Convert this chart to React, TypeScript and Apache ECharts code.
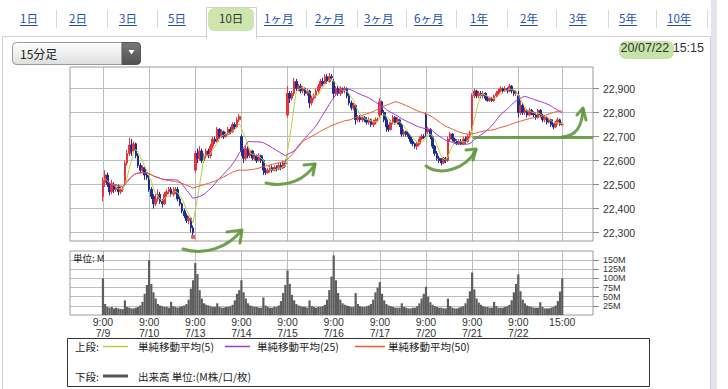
import React, { useEffect, useRef } from 'react';
import * as echarts from 'echarts';

// ---------------- data ----------------
const days = ['7/9', '7/10', '7/13', '7/14', '7/15', '7/16', '7/17', '7/20', '7/21', '7/22'];
const sessionTimes = ['9:00', '9:15', '9:30', '9:45', '10:00', '10:15', '10:30', '10:45', '11:00', '11:15',
  '12:30', '12:45', '13:00', '13:15', '13:30', '13:45', '14:00', '14:15', '14:30', '14:45', '15:00'];
const leadingSlots = 15;
const trailingSlots = 14;

// [open, close, low, high]
const ohlc0709 = [
  [22450, 22510, 22430, 22530], [22510, 22540, 22490, 22560], [22540, 22500, 22490, 22550], [22500, 22470, 22455, 22510],
  [22470, 22500, 22460, 22520], [22500, 22480, 22465, 22510], [22480, 22490, 22470, 22500], [22490, 22470, 22455, 22500],
  [22470, 22480, 22460, 22490], [22480, 22480, 22470, 22490], [22500, 22590, 22495, 22600], [22590, 22630, 22580, 22645],
  [22630, 22665, 22620, 22695], [22665, 22640, 22620, 22690], [22640, 22670, 22630, 22680], [22670, 22620, 22610, 22675],
  [22620, 22580, 22570, 22630], [22580, 22560, 22550, 22590], [22560, 22570, 22550, 22580], [22570, 22540, 22520, 22575],
  [22540, 22530, 22520, 22550],
];
const ohlc0710 = [
  [22520, 22480, 22470, 22540], [22480, 22450, 22440, 22490], [22450, 22420, 22400, 22460], [22420, 22440, 22410, 22460],
  [22440, 22460, 22430, 22480], [22460, 22430, 22420, 22470], [22430, 22420, 22405, 22440], [22420, 22460, 22415, 22470],
  [22460, 22470, 22450, 22480], [22470, 22480, 22460, 22490], [22480, 22460, 22450, 22490], [22460, 22470, 22450, 22490],
  [22470, 22480, 22460, 22490], [22480, 22440, 22430, 22490], [22440, 22420, 22410, 22450], [22420, 22390, 22380, 22425],
  [22390, 22370, 22360, 22400], [22370, 22350, 22340, 22380], [22350, 22360, 22335, 22370], [22360, 22320, 22300, 22365],
  [22320, 22300, 22290, 22330],
];
const ohlc0713 = [
  [22560, 22630, 22550, 22640], [22630, 22610, 22590, 22650], [22610, 22640, 22600, 22660], [22640, 22600, 22590, 22650],
  [22600, 22620, 22590, 22630], [22620, 22640, 22610, 22650], [22640, 22620, 22610, 22650], [22620, 22660, 22610, 22670],
  [22660, 22690, 22650, 22700], [22690, 22680, 22670, 22700], [22680, 22730, 22675, 22740], [22730, 22700, 22690, 22735],
  [22700, 22720, 22695, 22730], [22720, 22700, 22690, 22725], [22700, 22710, 22695, 22720], [22710, 22730, 22705, 22740],
  [22730, 22720, 22710, 22740], [22720, 22750, 22715, 22760], [22750, 22740, 22730, 22760], [22740, 22770, 22735, 22780],
  [22770, 22784, 22760, 22795],
];
const ohlc0714 = [
  [22700, 22640, 22620, 22710], [22640, 22610, 22590, 22650], [22610, 22650, 22600, 22660], [22650, 22620, 22610, 22660],
  [22620, 22640, 22610, 22650], [22640, 22610, 22600, 22645], [22610, 22620, 22600, 22630], [22620, 22600, 22590, 22625],
  [22600, 22620, 22595, 22630], [22620, 22600, 22590, 22625], [22600, 22560, 22540, 22605], [22560, 22550, 22540, 22570],
  [22550, 22560, 22545, 22570], [22560, 22570, 22550, 22580], [22570, 22560, 22550, 22580], [22560, 22570, 22555, 22580],
  [22570, 22565, 22555, 22580], [22565, 22580, 22560, 22590], [22580, 22570, 22560, 22590], [22570, 22590, 22565, 22600],
  [22590, 22587, 22575, 22605],
];
const ohlc0715 = [
  [22790, 22880, 22780, 22910], [22880, 22860, 22840, 22890], [22860, 22880, 22850, 22890], [22880, 22930, 22870, 22945],
  [22930, 22900, 22890, 22940], [22900, 22910, 22890, 22920], [22910, 22890, 22880, 22920], [22890, 22900, 22880, 22910],
  [22900, 22880, 22870, 22905], [22880, 22890, 22870, 22900], [22890, 22840, 22820, 22895], [22840, 22860, 22830, 22870],
  [22860, 22870, 22850, 22880], [22870, 22890, 22860, 22900], [22890, 22910, 22880, 22920], [22910, 22930, 22900, 22940],
  [22930, 22920, 22910, 22945], [22920, 22950, 22915, 22960], [22950, 22930, 22920, 22960], [22930, 22950, 22925, 22965],
  [22950, 22945, 22935, 22960],
];
const ohlc0716 = [
  [22930, 22880, 22860, 22940], [22880, 22900, 22870, 22910], [22900, 22880, 22870, 22910], [22880, 22900, 22870, 22910],
  [22900, 22890, 22880, 22905], [22890, 22900, 22880, 22910], [22900, 22870, 22860, 22905], [22870, 22840, 22830, 22880],
  [22840, 22820, 22810, 22850], [22820, 22830, 22810, 22840], [22830, 22770, 22750, 22835], [22770, 22780, 22760, 22790],
  [22780, 22770, 22760, 22790], [22770, 22780, 22760, 22790], [22780, 22770, 22760, 22785], [22770, 22760, 22750, 22780],
  [22760, 22770, 22750, 22780], [22770, 22750, 22740, 22775], [22750, 22760, 22740, 22770], [22760, 22770, 22750, 22780],
  [22770, 22770, 22760, 22780],
];
const ohlc0717 = [
  [22790, 22845, 22780, 22860], [22845, 22800, 22790, 22850], [22800, 22770, 22760, 22810], [22770, 22740, 22720, 22780],
  [22740, 22730, 22720, 22750], [22730, 22760, 22725, 22770], [22760, 22780, 22750, 22790], [22780, 22760, 22750, 22785],
  [22760, 22770, 22750, 22780], [22770, 22750, 22740, 22775], [22750, 22710, 22700, 22755], [22710, 22720, 22700, 22730],
  [22720, 22710, 22700, 22725], [22710, 22700, 22690, 22715], [22700, 22680, 22670, 22705], [22680, 22670, 22660, 22690],
  [22670, 22660, 22650, 22675], [22660, 22670, 22645, 22680], [22670, 22690, 22665, 22700], [22690, 22700, 22685, 22710],
  [22700, 22696, 22690, 22710],
];
const ohlc0720 = [
  [22790, 22720, 22700, 22800], [22720, 22730, 22710, 22740], [22730, 22700, 22690, 22735], [22700, 22660, 22650, 22705],
  [22660, 22630, 22620, 22665], [22630, 22610, 22600, 22640], [22610, 22600, 22590, 22620], [22600, 22590, 22580, 22610],
  [22590, 22610, 22585, 22615], [22610, 22600, 22590, 22615], [22600, 22690, 22595, 22700], [22690, 22710, 22680, 22720],
  [22710, 22690, 22680, 22715], [22690, 22680, 22670, 22695], [22680, 22670, 22665, 22690], [22670, 22680, 22665, 22690],
  [22680, 22670, 22665, 22690], [22670, 22690, 22665, 22700], [22690, 22680, 22670, 22700], [22680, 22700, 22675, 22710],
  [22700, 22717, 22695, 22725],
];
const ohlc0721 = [
  [22730, 22870, 22720, 22880], [22870, 22890, 22860, 22900], [22890, 22870, 22860, 22895], [22870, 22880, 22860, 22890],
  [22880, 22870, 22860, 22890], [22870, 22880, 22860, 22890], [22880, 22860, 22850, 22885], [22860, 22850, 22845, 22870],
  [22850, 22860, 22845, 22865], [22860, 22850, 22845, 22865], [22850, 22870, 22845, 22875], [22870, 22880, 22865, 22890],
  [22880, 22890, 22875, 22900], [22890, 22900, 22885, 22910], [22900, 22890, 22880, 22905], [22890, 22900, 22885, 22910],
  [22900, 22890, 22880, 22905], [22890, 22910, 22885, 22920], [22910, 22890, 22880, 22915], [22890, 22880, 22870, 22895],
  [22880, 22884, 22870, 22895],
];
const ohlc0722 = [
  [22870, 22800, 22780, 22890], [22800, 22830, 22790, 22850], [22830, 22800, 22790, 22840], [22800, 22810, 22790, 22820],
  [22810, 22790, 22780, 22815], [22790, 22810, 22785, 22820], [22810, 22800, 22790, 22815], [22800, 22790, 22780, 22805],
  [22790, 22780, 22770, 22800], [22780, 22810, 22775, 22815], [22810, 22790, 22780, 22815], [22790, 22770, 22760, 22795],
  [22770, 22780, 22760, 22790], [22780, 22760, 22750, 22785], [22760, 22770, 22755, 22775], [22770, 22750, 22740, 22775],
  [22750, 22740, 22730, 22755], [22740, 22760, 22735, 22765], [22760, 22770, 22750, 22780], [22770, 22750, 22745, 22775],
  [22750, 22751, 22745, 22760],
];
const dayOhlc = [ohlc0709, ohlc0710, ohlc0713, ohlc0714, ohlc0715, ohlc0716, ohlc0717, ohlc0720, ohlc0721, ohlc0722];

// volume, M
const vol0709 = [100, 30, 22, 20, 22, 18, 20, 18, 17, 16, 40, 22, 20, 18, 18, 20, 22, 26, 36, 58, 82];
const vol0710 = [150, 85, 62, 45, 30, 26, 24, 22, 22, 20, 36, 24, 22, 20, 22, 24, 26, 30, 42, 72, 95];
const vol0713 = [142, 112, 68, 45, 32, 28, 26, 24, 22, 22, 32, 22, 20, 20, 22, 22, 24, 28, 40, 58, 68];
const vol0714 = [95, 62, 45, 32, 26, 24, 22, 22, 20, 20, 48, 26, 22, 20, 20, 22, 22, 26, 38, 60, 82];
const vol0715 = [122, 85, 55, 40, 30, 26, 24, 22, 22, 20, 40, 24, 22, 20, 22, 22, 24, 28, 42, 68, 105];
const vol0716 = [163, 95, 60, 42, 32, 28, 26, 24, 22, 22, 60, 30, 24, 22, 22, 24, 26, 30, 42, 62, 75];
const vol0717 = [90, 58, 40, 30, 26, 24, 22, 20, 20, 20, 32, 22, 20, 18, 18, 20, 20, 24, 32, 45, 58];
const vol0720 = [77, 50, 35, 28, 24, 22, 20, 20, 18, 18, 45, 24, 20, 18, 18, 20, 22, 24, 32, 45, 65];
const vol0721 = [116, 70, 45, 34, 28, 24, 22, 22, 20, 20, 36, 24, 20, 20, 20, 22, 24, 28, 40, 62, 85];
const vol0722 = [111, 65, 42, 32, 26, 24, 22, 20, 20, 20, 35, 22, 18, 18, 18, 20, 22, 26, 38, 64, 100];
const dayVolume = [vol0709, vol0710, vol0713, vol0714, vol0715, vol0716, vol0717, vol0720, vol0721, vol0722];

const priceTicks = [22300, 22400, 22500, 22600, 22700, 22800, 22900];
const volumeTicks = [25, 50, 75, 100, 125, 150];
const maPeriods = [5, 25, 50];
const maNames = ['単純移動平均(5)', '単純移動平均(25)', '単純移動平均(50)'];
const maColors = ['#b8d040', '#9b3ad6', '#ec5a32'];
const lowMarker = { day: 1, bar: 20, value: 22282 };

const tabs = [
  { label: '1日', x: 20 }, { label: '2日', x: 69 }, { label: '3日', x: 119 }, { label: '5日', x: 168 },
  { label: '10日', x: 219, active: true }, { label: '1ヶ月', x: 264 }, { label: '2ヶ月', x: 315 },
  { label: '3ヶ月', x: 364 }, { label: '6ヶ月', x: 414 }, { label: '1年', x: 470 }, { label: '2年', x: 520 },
  { label: '3年', x: 569 }, { label: '5年', x: 619 }, { label: '10年', x: 667 },
];
const tabSeparators = [56, 107, 157, 306, 357, 406, 456, 507, 556, 608, 656, 707];

// ---------------- derived ----------------
const barsPerDay = sessionTimes.length;
const categories: string[] = [];
for (let i = 0; i < leadingSlots; i++) categories.push(`lead${i}`);
days.forEach((d) => sessionTimes.forEach((t) => categories.push(`${d} ${t}`)));
for (let i = 0; i < trailingSlots; i++) categories.push(`trail${i}`);

const bars: number[][] = ([] as number[][]).concat(...dayOhlc);
const volumes: number[] = ([] as number[]).concat(...dayVolume);
const pad = (arr: any[]) => [
  ...Array(leadingSlots).fill('-'),
  ...arr,
  ...Array(trailingSlots).fill('-'),
];
const closes = bars.map((b) => b[1]);
const sma = (n: number) =>
  closes.map((_, i) => {
    const s = Math.max(0, i - n + 1);
    let sum = 0;
    for (let j = s; j <= i; j++) sum += closes[j];
    return Math.round((sum / (i - s + 1)) * 10) / 10;
  });

const labelMap: Record<number, string> = {};
days.forEach((d, i) => {
  labelMap[leadingSlots + i * barsPerDay] = `${sessionTimes[0]}\n${d}`;
});
const lastIndex = leadingSlots + days.length * barsPerDay - 1;
labelMap[lastIndex] = sessionTimes[sessionTimes.length - 1];
const isGridIdx = (idx: number) => labelMap[idx] !== undefined;

export default function App() {
  const ref = useRef<HTMLDivElement>(null);
  useEffect(() => {
    if (!ref.current) return;
    const chart = echarts.init(ref.current, null, { renderer: 'svg' });

    const ctx = document.createElement('canvas').getContext('2d')!;
    const measure = (t: string, font: string) => {
      ctx.font = font;
      return ctx.measureText(t).width;
    };

    const cjk = '"Noto Sans CJK JP", "Noto Sans", sans-serif';
    const latin = '"Liberation Sans", Arial, sans-serif';
    const green = 'rgba(98,152,62,0.9)';

    const graphics: any[] = [];
    graphics.push({ type: 'rect', z: -10, shape: { x: 711, y: 0, width: 6, height: 389 }, style: { fill: '#e4e4ec' } });
    graphics.push({ type: 'rect', z: -9, shape: { x: 2.5, y: 36.5, width: 708, height: 380 }, style: { fill: '#fff', stroke: '#cfcfcf', lineWidth: 1 } });
    graphics.push({ type: 'rect', z: -8, shape: { x: 206.5, y: 7.5, width: 50, height: 31 }, style: { fill: '#fff', stroke: '#cfcfcf', lineWidth: 1 } });
    graphics.push({ type: 'rect', z: -7, shape: { x: 207, y: 35, width: 49, height: 4 }, style: { fill: '#fff' } });
    graphics.push({ type: 'rect', z: -6, shape: { x: 208, y: 8, width: 46, height: 23, r: 6 }, style: { fill: 'rgba(170,214,120,0.6)' } });
    tabSeparators.forEach((x) =>
      graphics.push({ type: 'line', z: -6, shape: { x1: x + 0.5, y1: 10, x2: x + 0.5, y2: 28 }, style: { stroke: '#d8d8d8', lineWidth: 1 } })
    );
    const tabFont = `11.5px ${cjk}`;
    tabs.forEach((t) => {
      const w = measure(t.label, tabFont);
      graphics.push({
        type: 'text', z: 5,
        style: { x: t.x, y: 18, text: t.label, font: tabFont, fill: t.active ? '#333' : '#1d50b0', textVerticalAlign: 'middle' },
      });
      if (!t.active) {
        graphics.push({ type: 'line', z: 5, shape: { x1: t.x, y1: 25.5, x2: t.x + w, y2: 25.5 }, style: { stroke: '#1d50b0', lineWidth: 1 } });
      }
    });

    // dropdown
    graphics.push({
      type: 'rect', z: 5, shape: { x: 12.5, y: 42.5, width: 128, height: 22, r: 4 },
      style: {
        fill: new echarts.graphic.LinearGradient(0, 0, 0, 1, [{ offset: 0, color: '#ffffff' }, { offset: 1, color: '#dedede' }]),
        stroke: '#9a9a9a', lineWidth: 1,
      },
    });
    graphics.push({
      type: 'rect', z: 6, shape: { x: 122, y: 42.5, width: 18.5, height: 22, r: [0, 4, 4, 0] },
      style: {
        fill: new echarts.graphic.LinearGradient(0, 0, 0, 1, [{ offset: 0, color: '#7a7a7a' }, { offset: 1, color: '#505050' }]),
        stroke: '#555', lineWidth: 1,
      },
    });
    graphics.push({ type: 'polygon', z: 7, shape: { points: [[128.5, 50], [134.5, 50], [131.5, 54.5]] }, style: { fill: '#fff' } });
    graphics.push({ type: 'text', z: 7, style: { x: 20, y: 53.5, text: '15分足', font: `12px ${cjk}`, fill: '#222', textVerticalAlign: 'middle' } });

    // date
    graphics.push({ type: 'rect', z: 5, shape: { x: 619, y: 41, width: 55, height: 18, r: 7 }, style: { fill: 'rgba(150,205,100,0.55)' } });
    graphics.push({ type: 'text', z: 6, style: { x: 704, y: 48, text: '20/07/22 15:15', font: `12.5px ${latin}`, fill: '#333', textAlign: 'right', textVerticalAlign: 'middle' } });

    // volume unit label
    graphics.push({ type: 'text', z: 20, style: { x: 73, y: 257.5, text: '単位: M', font: `9.5px ${cjk}`, fill: '#222', textVerticalAlign: 'middle' } });

    // legend box
    graphics.push({ type: 'rect', z: 5, shape: { x: 67.5, y: 338.5, width: 582, height: 48 }, style: { fill: '#fff', stroke: '#333', lineWidth: 1 } });
    const legFont = `10.5px ${cjk}`;
    graphics.push({ type: 'text', z: 6, style: { x: 75, y: 346.5, text: '上段:', font: legFont, fill: '#222', textVerticalAlign: 'middle' } });
    const legendItems = [
      { x1: 103, x2: 128, tx: 138 },
      { x1: 225, x2: 250, tx: 257 },
      { x1: 355, x2: 385, tx: 388 },
    ];
    legendItems.forEach((it, i) => {
      graphics.push({ type: 'line', z: 6, shape: { x1: it.x1, y1: 346.5, x2: it.x2, y2: 346.5 }, style: { stroke: maColors[i], lineWidth: 1.5 } });
      graphics.push({ type: 'text', z: 6, style: { x: it.tx, y: 346.5, text: maNames[i], font: legFont, fill: '#222', textVerticalAlign: 'middle' } });
    });
    graphics.push({ type: 'text', z: 6, style: { x: 75, y: 376, text: '下段:', font: legFont, fill: '#222', textVerticalAlign: 'middle' } });
    graphics.push({ type: 'line', z: 6, shape: { x1: 103, y1: 376, x2: 128, y2: 376 }, style: { stroke: '#555', lineWidth: 3 } });
    graphics.push({ type: 'text', z: 6, style: { x: 138, y: 376, text: '出来高 単位:(M株/口/枚)', font: legFont, fill: '#222', textVerticalAlign: 'middle' } });

    // hand-drawn green annotations
    const ann = { stroke: green, lineWidth: 3, lineCap: 'round', lineJoin: 'round', fill: 'none' };
    graphics.push({ type: 'bezierCurve', z: 100, shape: { x1: 183, y1: 249, cpx1: 205, cpy1: 256, cpx2: 228, cpy2: 247, x2: 241, y2: 231 }, style: ann });
    graphics.push({ type: 'polyline', z: 100, shape: { points: [[227, 232], [242, 230], [240, 243]] }, style: ann });
    graphics.push({ type: 'bezierCurve', z: 100, shape: { x1: 266, y1: 183, cpx1: 285, cpy1: 188, cpx2: 306, cpy2: 180, x2: 315, y2: 164 }, style: ann });
    graphics.push({ type: 'polyline', z: 100, shape: { points: [[304, 165], [315, 164], [313, 175]] }, style: ann });
    graphics.push({ type: 'bezierCurve', z: 100, shape: { x1: 426, y1: 166, cpx1: 440, cpy1: 176, cpx2: 465, cpy2: 170, x2: 476, y2: 150 }, style: ann });
    graphics.push({ type: 'polyline', z: 100, shape: { points: [[466, 150], [476, 149], [473, 160]] }, style: ann });
    graphics.push({ type: 'line', z: 100, shape: { x1: 474, y1: 137.5, x2: 592, y2: 137.5 }, style: ann });
    graphics.push({ type: 'bezierCurve', z: 100, shape: { x1: 562, y1: 137, cpx1: 576, cpy1: 136, cpx2: 582, cpy2: 127, x2: 583, y2: 109 }, style: ann });
    graphics.push({ type: 'polyline', z: 100, shape: { points: [[577, 115], [583, 108], [586, 120]] }, style: ann });

    const gridColor = '#bdbdbd';

    const option: any = {
      animation: false,
      backgroundColor: '#fff',
      grid: [
        { left: 70, top: 67, width: 523, height: 174, show: true, borderColor: '#9a9a9a', borderWidth: 1, backgroundColor: 'transparent', z: 1 },
        { left: 70, top: 251, width: 523, height: 64, show: true, borderColor: '#9a9a9a', borderWidth: 1, backgroundColor: 'transparent', z: 1 },
      ],
      xAxis: [
        {
          type: 'category', gridIndex: 0, data: categories, boundaryGap: false,
          axisLine: { show: false }, axisTick: { show: false }, axisLabel: { show: false },
          splitLine: { show: true, interval: (i: number) => isGridIdx(i), lineStyle: { color: gridColor, width: 1 } },
        },
        {
          type: 'category', gridIndex: 1, data: categories, boundaryGap: false,
          axisLine: { show: false }, axisTick: { show: false },
          axisLabel: {
            show: true, interval: (i: number) => isGridIdx(i),
            formatter: (_v: string, i: number) => labelMap[i] ?? '',
            fontFamily: latin, fontSize: 10.5, lineHeight: 10.5, color: '#333', margin: 2,
          },
          splitLine: { show: true, interval: (i: number) => isGridIdx(i), lineStyle: { color: gridColor, width: 1 } },
        },
      ],
      yAxis: [
        {
          type: 'value', gridIndex: 0, position: 'right', min: 22265, max: 22990, splitNumber: 7,
          axisLine: { show: false },
          axisTick: { show: true, length: 6, customValues: priceTicks, lineStyle: { color: '#8a8a8a' } },
          axisLabel: {
            fontFamily: latin, fontSize: 10.5, color: '#333', margin: 10, customValues: priceTicks,
            formatter: (v: number) => (v % 100 === 0 ? v.toLocaleString('en-US') : ''),
          },
          splitLine: { show: true, lineStyle: { color: gridColor, width: 1 } },
        },
        {
          type: 'value', gridIndex: 1, position: 'right', min: 0, max: 175, interval: 25,
          axisLine: { show: false },
          axisTick: { show: true, length: 6, customValues: volumeTicks, lineStyle: { color: '#8a8a8a' } },
          axisLabel: {
            fontFamily: latin, fontSize: 9, lineHeight: 9, color: '#333', margin: 10, customValues: volumeTicks,
            showMinLabel: true, showMaxLabel: true, hideOverlap: false,
            formatter: (v: number) => (v > 0 && v < 175 ? `${v}M` : ''),
          },
          splitLine: { show: true, lineStyle: { color: gridColor, width: 1 } },
        },
      ],
      series: [
        {
          type: 'candlestick', xAxisIndex: 0, yAxisIndex: 0, data: pad(bars), barWidth: 2.2,
          itemStyle: { color: '#e8323c', color0: '#1b2d8e', borderColor: '#e8323c', borderColor0: '#1b2d8e', borderWidth: 1 },
          z: 3,
        },
        ...maPeriods.map((n, i) => ({
          type: 'line', name: maNames[i], xAxisIndex: 0, yAxisIndex: 0, data: pad(sma(n)),
          showSymbol: false, symbol: 'none', lineStyle: { color: maColors[i], width: 1 }, z: 4,
        })),
        {
          type: 'scatter', xAxisIndex: 0, yAxisIndex: 0, symbol: 'rect', symbolSize: 4,
          data: [[leadingSlots + lowMarker.day * barsPerDay + lowMarker.bar, lowMarker.value]],
          itemStyle: { color: '#e8323c' }, z: 5,
        },
        {
          type: 'bar', xAxisIndex: 1, yAxisIndex: 1, data: pad(volumes), barCategoryGap: '0%',
          itemStyle: { color: '#5e5e5e' }, z: 3,
        },
      ],
      graphic: { elements: graphics },
    };

    chart.setOption(option);
    return () => chart.dispose();
  }, []);

  return (
    <div style={{ position: 'fixed', left: 0, top: 0, width: 728, height: 389, background: '#fff', overflow: 'hidden' }}>
      <div ref={ref} style={{ width: 728, height: 389 }} />
    </div>
  );
}
